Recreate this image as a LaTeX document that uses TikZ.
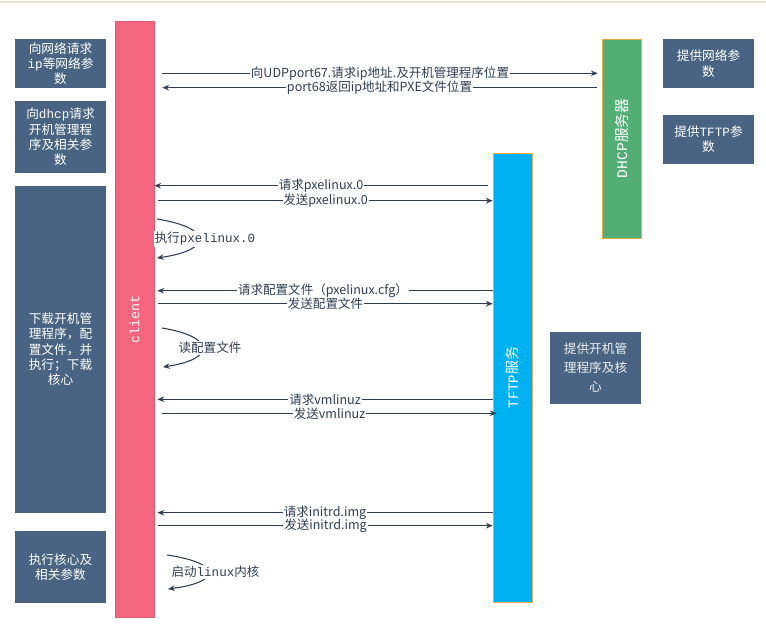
\documentclass[tikz,border=0pt]{standalone}
\usepackage{fontspec}
\setmainfont{Noto Sans CJK SC}
\newfontfamily\mono{Liberation Mono}
\usetikzlibrary{arrows.meta,calc}
\definecolor{boxc}{HTML}{486482}
\definecolor{pinkc}{HTML}{F4667F}
\definecolor{pinkb}{HTML}{DC5C76}
\definecolor{greenc}{HTML}{52AE74}
\definecolor{bluec}{HTML}{00B0F0}
\definecolor{orangeb}{HTML}{E2AC48}
\definecolor{linec}{HTML}{2F3E52}
\definecolor{topline}{HTML}{EAE3D0}
\begin{document}
\begin{tikzpicture}[x=0.75pt,y=-0.75pt,
  infobox/.style={fill=boxc, draw=none, text=white, align=center, inner sep=0pt,
    font=\fontsize{9.5}{11.5}\selectfont, minimum width=68.25pt},
  bar/.style={draw=orangeb, line width=0.6pt, inner sep=0pt, minimum width=29.25pt},
  msg/.style={draw=linec, line width=0.8pt, -{Stealth[length=5pt,width=4.2pt]}},
  lbl/.style={fill=white, inner xsep=0.6pt, inner ysep=0pt, text=linec,
    font=\fontsize{9.4}{11}\selectfont},
  selflbl/.style={fill=white, inner xsep=0.5pt, inner ysep=1pt, text=linec,
    font=\fontsize{9.4}{11}\selectfont},
  loopline/.style={draw=linec, line width=0.8pt, -{Stealth[length=5pt,width=4.2pt]}}]
\useasboundingbox (0,0) rectangle (766,630);
\draw[topline, line width=1pt] (0,2) -- (766,2);

% left info boxes
\node[infobox, minimum height=36.75pt] (b1) at (60.5,63.5) {向网络请求\\{\mono ip}等网络参\\数};
\node[infobox, minimum height=54pt] (b2) at (60.5,137) {向{\mono dhcp}请求\\开机管理程\\序及相关参\\数};
\node[infobox, minimum height=245.25pt] (b3) at (60.5,349.5) {下载开机管\\理程序，配\\置文件，并\\执行；下载\\核心};
\node[infobox, minimum height=54pt] (b4) at (60.5,567) {执行核心及\\相关参数};

% bars
\node[bar, fill=pinkc, draw=pinkb, minimum height=447pt,
  label={[rotate=90, text=white, font=\mono\fontsize{10}{12}\selectfont]center:client}] (client) at (134.5,319) {};
\node[bar, fill=greenc, minimum height=149.25pt,
  label={[rotate=90, text=white, font=\fontsize{11}{13}\selectfont]center:{\mono DHCP}服务器}] (dhcp) at (621.5,138.5) {};
\node[bar, fill=bluec, minimum height=336.75pt,
  label={[rotate=90, text=white, font=\fontsize{10.5}{12}\selectfont]center:{\mono TFTP}服务}] (tftp) at (512.5,377.5) {};

% right info boxes
\node[infobox, minimum height=36.75pt] (b5) at (708.5,63.5) {提供网络参\\数};
\node[infobox, minimum height=36.75pt] (b6) at (708.5,139.5) {提供{\mono TFTP}参\\数};
\node[infobox, minimum height=54pt, text=white!90!boxc, font=\fontsize{9.5}{14.25}\selectfont] (b7) at (595.5,368) {提供开机管\\理程序及核\\心};

% row coordinates
\coordinate (r1) at (0,73.3);
\coordinate (r2) at (0,87.7);
\coordinate (r3) at (0,185.7);
\coordinate (r4) at (0,200.7);
\coordinate (r5) at (0,290.7);
\coordinate (r6) at (0,303.7);
\coordinate (r7) at (0,399.3);
\coordinate (r8) at (0,413.3);
\coordinate (r9) at (0,512.7);
\coordinate (r10) at (0,525.7);

\draw[msg] ($(client.east|-r1)+(8,0)$) -- node[lbl] (l1) {向UDPport67.请求ip地址.及开机管理程序位置} ($(dhcp.west|-r1)+(-4,0)$);
\draw[msg] ($(dhcp.west|-r2)+(-5,0)$) -- node[lbl] (l2) {port68返回ip地址和PXE文件位置} ($(client.east|-r2)+(8,0)$);
\draw[msg] ($(tftp.west|-r3)+(-5,0)$) -- node[lbl] (l3) {请求pxelinux.0} (client.east|-r3);
\draw[msg] ($(client.east|-r4)+(4,0)$) -- node[lbl] (l4) {发送pxelinux.0} (tftp.west|-r4);
\draw[msg] (tftp.west|-r5) -- node[lbl, pos=0.506] (l5) {请求配置文件（pxelinux.cfg）} ($(client.east|-r5)+(3,0)$);
\draw[msg] ($(client.east|-r6)+(4,0)$) -- node[lbl] (l6) {发送配置文件} (tftp.west|-r6);
\draw[msg] (tftp.west|-r7) -- node[lbl] (l7) {请求vmlinuz} ($(client.east|-r7)+(3,0)$);
\draw[msg] ($(client.east|-r8)+(8,0)$) -- node[lbl] (l8) {发送vmlinuz} ($(tftp.west|-r8)+(4,0)$);
\draw[msg] (tftp.west|-r9) -- node[lbl] (l9) {请求initrd.img} ($(client.east|-r9)+(3,0)$);
\draw[msg] ($(client.east|-r10)+(4,0)$) -- node[lbl] (l10) {发送initrd.img} (tftp.west|-r10);

% self loops
\coordinate (s1a) at (157,219);
\coordinate (s1b) at (157,258);
\draw[loopline] (s1a) .. controls (213,228) and (213,250) .. (s1b);
\node[selflbl] (e1) at (205,239) {执行{\mono pxelinux.0}};

\coordinate (s2a) at (162,328);
\coordinate (s2b) at (163,367);
\draw[loopline] (s2a) .. controls (216,337) and (216,359) .. (s2b);
\node[selflbl] (e2) at (210,347.7) {读配置文件};

\coordinate (s3a) at (167,555);
\coordinate (s3b) at (168,589);
\draw[loopline] (s3a) .. controls (222,563) and (222,582) .. (s3b);
\node[selflbl] (e3) at (215.5,571.7) {启动{\mono linux}内核};
\end{tikzpicture}
\end{document}
